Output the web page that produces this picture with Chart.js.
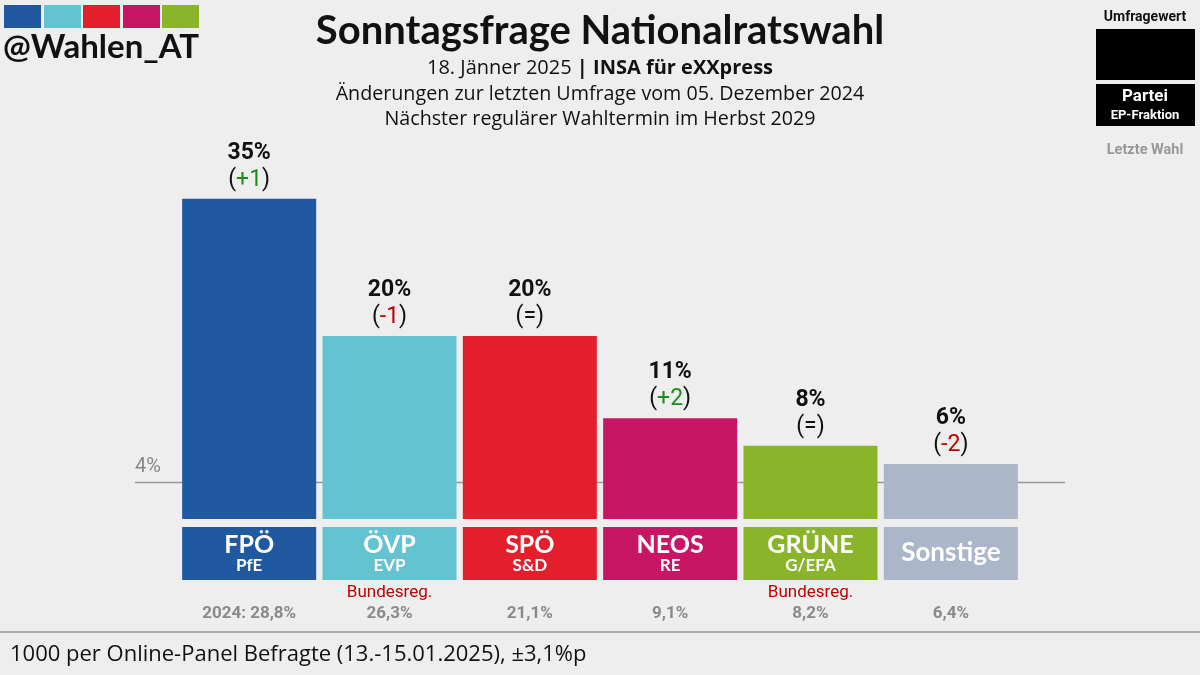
<!DOCTYPE html>
<html>
<head>
<meta charset="utf-8">
<script src="https://cdn.jsdelivr.net/npm/chart.js@4.4.1/dist/chart.umd.min.js"></script>
<style>
  html, body { margin: 0; padding: 0; background: #eeeeee; }
  canvas { display: block; }
</style>
</head>
<body>
<canvas id="chart" width="1200" height="675"></canvas>
<script>
// poll data (INSA für eXXpress, 18.01.2025)
const parties = ['FPÖ', 'ÖVP', 'SPÖ', 'NEOS', 'GRÜNE', 'Sonstige'];
const epGroups = ['PfE', 'EVP', 'S&D', 'RE', 'G/EFA', ''];
const pollValues = [35, 20, 20, 11, 8, 6];
const changes = [1, -1, 0, 2, 0, -2];
const lastElection = [28.8, 26.3, 21.1, 9.1, 8.2, 6.4];
const govParties = ['ÖVP', 'GRÜNE'];
const threshold = 4;

const partyColors = ['#2059a0', '#63c3d1', '#e31e2d', '#c81664', '#8ab52a', '#abb6c9'];
const BG = '#eeeeee';

const fmt = v => v.toFixed(1).replace('.', ',');

function txt(ctx, s, x, y, font, color, align) {
    ctx.font = font;
    ctx.fillStyle = color;
    ctx.textAlign = align || 'center';
    ctx.textBaseline = 'middle';
    ctx.fillText(s, x, y);
}

const decorations = {
    id: 'decorations',
    beforeDraw(chart) {
        const ctx = chart.ctx;
        ctx.save();
        ctx.fillStyle = BG;
        ctx.fillRect(0, 0, chart.width, chart.height);
        ctx.restore();
    },
    beforeDatasetsDraw(chart) {
        const ctx = chart.ctx;
        const y = chart.scales.y.getPixelForValue(threshold);
        ctx.save();
        ctx.strokeStyle = '#999999';
        ctx.lineWidth = 1.5;
        ctx.beginPath();
        ctx.moveTo(135, y);
        ctx.lineTo(1065, y);
        ctx.stroke();
        txt(ctx, threshold + '%', 135, y - 15, '20px Roboto', '#888888', 'left');
        ctx.restore();
    },
    afterDatasetsDraw(chart) {
        const ctx = chart.ctx;
        const bars = chart.getDatasetMeta(0).data;
        ctx.save();

        bars.forEach((bar, i) => {
            const x = bar.x;
            const w = bar.width;
            // value + change
            txt(ctx, pollValues[i] + '%', x, bar.y - 46, 'bold 23px Roboto', '#111111');
            const c = changes[i];
            const inner = c === 0 ? '=' : (c > 0 ? '+' + c : String(c));
            const col = c === 0 ? '#111111' : (c > 0 ? '#1e8c1e' : '#c00000');
            ctx.font = '23px Roboto';
            const wo = ctx.measureText('(').width;
            const wi = ctx.measureText(inner).width;
            const wc = ctx.measureText(')').width;
            let sx = x - (wo + wi + wc) / 2;
            txt(ctx, '(', sx, bar.y - 19, '23px Roboto', '#111111', 'left');
            txt(ctx, inner, sx + wo, bar.y - 19, '23px Roboto', col, 'left');
            txt(ctx, ')', sx + wo + wi, bar.y - 19, '23px Roboto', '#111111', 'left');

            // party label box
            ctx.fillStyle = partyColors[i];
            ctx.fillRect(x - w / 2, 527, w, 53);
            if (epGroups[i]) {
                txt(ctx, parties[i], x, 545, 'bold 25px Lato', '#ffffff');
                txt(ctx, epGroups[i], x, 566, 'bold 17px Lato', '#ffffff');
            } else {
                txt(ctx, parties[i], x, 553, 'bold 26px Lato', '#ffffff');
            }
            if (govParties.includes(parties[i])) {
                txt(ctx, 'Bundesreg.', x, 593, '17px Roboto', '#c00000');
            }
            const last = (i === 0 ? '2024: ' : '') + fmt(lastElection[i]) + '%';
            txt(ctx, last, x, 614, 'bold 17px Roboto', '#8a8a8a');
        });

        // logo squares + handle
        const logoX = [4, 44, 83, 123, 162];
        logoX.forEach((lx, i) => {
            ctx.fillStyle = partyColors[i];
            ctx.fillRect(lx, 5, 37, 23);
        });
        txt(ctx, '@Wahlen_AT', 3, 47, 'bold 33px Lato', '#111111', 'left');

        // title block
        txt(ctx, 'Sonntagsfrage Nationalratswahl', 600, 31, 'bold 40px Lato', '#111111');
        ctx.font = '20px "Open Sans"';
        const p1 = '18. Jänner 2025 ';
        const w1 = ctx.measureText(p1).width;
        ctx.font = 'bold 20px "Open Sans"';
        const p2 = '| INSA für eXXpress';
        const w2 = ctx.measureText(p2).width;
        const s0 = 600 - (w1 + w2) / 2;
        txt(ctx, p1, s0, 68, '20px "Open Sans"', '#111111', 'left');
        txt(ctx, p2, s0 + w1, 68, 'bold 20px "Open Sans"', '#111111', 'left');
        txt(ctx, 'Änderungen zur letzten Umfrage vom 05. Dezember 2024', 600, 94, '19.7px "Open Sans"', '#111111');
        txt(ctx, 'Nächster regulärer Wahltermin im Herbst 2029', 600, 119, '19.7px "Open Sans"', '#111111');

        // legend key, top right
        txt(ctx, 'Umfragewert', 1145, 17, 'bold 14px Roboto', '#111111');
        ctx.fillStyle = '#000000';
        ctx.fillRect(1096, 29, 99, 51);
        ctx.fillRect(1096, 84, 99, 42);
        txt(ctx, 'Partei', 1145, 97, 'bold 17px Roboto', '#ffffff');
        txt(ctx, 'EP-Fraktion', 1145, 116, 'bold 13px Roboto', '#ffffff');
        txt(ctx, 'Letzte Wahl', 1145, 150, 'bold 14.5px Roboto', '#999999');

        // footer
        ctx.strokeStyle = '#aaaaaa';
        ctx.lineWidth = 2;
        ctx.beginPath();
        ctx.moveTo(0, 632);
        ctx.lineTo(1200, 632);
        ctx.stroke();
        txt(ctx, '1000 per Online-Panel Befragte (13.-15.01.2025), ±3,1%p', 10, 655, '22px "Open Sans"', '#111111', 'left');

        ctx.restore();
    }
};

new Chart(document.getElementById('chart'), {
    type: 'bar',
    data: {
        labels: parties,
        datasets: [{
            data: pollValues,
            backgroundColor: partyColors,
            borderWidth: 0,
            barPercentage: 0.955,
            categoryPercentage: 1.0
        }]
    },
    options: {
        responsive: false,
        animation: false,
        devicePixelRatio: 1,
        layout: { padding: { left: 179, right: 179, top: 153, bottom: 64.5 } },
        scales: {
            x: { display: false },
            y: { display: false, min: -10, max: 40 }
        },
        plugins: {
            legend: { display: false },
            tooltip: { enabled: false }
        }
    },
    plugins: [decorations]
});
</script>
</body>
</html>
